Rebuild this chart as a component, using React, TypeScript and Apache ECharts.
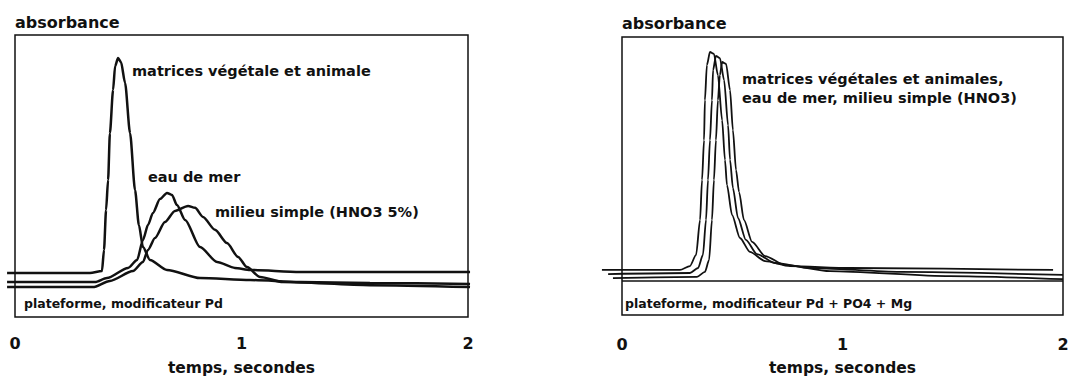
import React, { useEffect, useRef } from "react";
import * as echarts from "echarts";

// ---- data: [time (s), absorbance (arbitrary units)] ----
// Left panel: plateforme, modificateur Pd
const leftMatrices: number[][] = [
  [-0.035, 0.156], [0.331, 0.156], [0.384, 0.163], [0.393, 0.238], [0.402, 0.379],
  [0.411, 0.486], [0.419, 0.652], [0.433, 0.805], [0.442, 0.89], [0.455, 0.918],
  [0.468, 0.904], [0.486, 0.83], [0.508, 0.652], [0.53, 0.45], [0.547, 0.326],
  [0.565, 0.248], [0.596, 0.202], [0.671, 0.167], [0.817, 0.138], [1.038, 0.131],
  [1.258, 0.124], [1.567, 0.121], [2.009, 0.117],
];
const leftEauDeMer: number[][] = [
  [-0.035, 0.124], [0.353, 0.124], [0.406, 0.138], [0.499, 0.174], [0.539, 0.202],
  [0.565, 0.273], [0.587, 0.326], [0.609, 0.369], [0.64, 0.418], [0.671, 0.44],
  [0.693, 0.433], [0.715, 0.397], [0.751, 0.344], [0.817, 0.248], [0.892, 0.195],
  [0.971, 0.174], [1.038, 0.167], [1.258, 0.16], [2.009, 0.16],
];
const leftMilieuSimple: number[][] = [
  [-0.035, 0.106], [0.344, 0.106], [0.419, 0.128], [0.521, 0.163], [0.565, 0.195],
  [0.587, 0.238], [0.618, 0.28], [0.662, 0.337], [0.706, 0.376], [0.764, 0.394],
  [0.795, 0.387], [0.83, 0.355], [0.883, 0.309], [0.936, 0.262], [0.985, 0.213],
  [1.024, 0.177], [1.082, 0.142], [1.183, 0.124], [1.567, 0.113], [2.009, 0.106],
];
// Right panel: plateforme, modificateur Pd + PO4 + Mg
const rightCurveA: number[][] = [
  [-0.091, 0.162], [0.263, 0.162], [0.308, 0.176], [0.336, 0.216], [0.354, 0.342],
  [0.363, 0.486], [0.372, 0.629], [0.376, 0.773], [0.385, 0.899], [0.399, 0.946],
  [0.417, 0.939], [0.435, 0.863], [0.454, 0.701], [0.467, 0.558], [0.476, 0.468],
  [0.499, 0.36], [0.535, 0.277], [0.58, 0.227], [0.649, 0.194], [0.762, 0.176],
  [1.034, 0.169], [1.955, 0.162],
];
const rightCurveB: number[][] = [
  [-0.063, 0.147], [0.308, 0.151], [0.345, 0.169], [0.367, 0.216], [0.381, 0.342],
  [0.39, 0.486], [0.399, 0.629], [0.408, 0.773], [0.413, 0.881], [0.426, 0.932],
  [0.444, 0.924], [0.463, 0.845], [0.481, 0.683], [0.49, 0.558], [0.503, 0.457],
  [0.526, 0.349], [0.562, 0.27], [0.612, 0.219], [0.694, 0.187], [0.853, 0.169],
  [1.261, 0.155], [2.0, 0.144],
];
const rightCurveC: number[][] = [
  [-0.041, 0.133], [0.34, 0.137], [0.376, 0.155], [0.395, 0.198], [0.408, 0.342],
  [0.417, 0.486], [0.426, 0.629], [0.435, 0.773], [0.444, 0.863], [0.454, 0.91],
  [0.472, 0.903], [0.49, 0.809], [0.503, 0.665], [0.517, 0.522], [0.531, 0.442],
  [0.553, 0.342], [0.59, 0.263], [0.649, 0.212], [0.739, 0.18], [0.943, 0.158],
  [1.488, 0.14], [2.0, 0.129],
];
const rightLabelBoxLevel = 0.122;

const xTickValues = [0, 1, 2];
const frameX = [0, 2];
const frameY = [0, 1];

const FONT = "'DejaVu Sans', 'Liberation Sans', sans-serif";
const INK = "#111";

function lineSeries(data: number[][], xi: number, width: number, extra: any = {}) {
  return {
    type: "line",
    xAxisIndex: xi,
    yAxisIndex: xi,
    data,
    symbol: "none",
    smooth: 0.25,
    smoothMonotone: "x",
    clip: false,
    silent: true,
    lineStyle: { color: INK, width },
    ...extra,
  };
}

const frameArea = {
  silent: true,
  itemStyle: { color: "rgba(0,0,0,0)", borderColor: INK, borderWidth: 1.5 },
  label: { show: false },
  data: [[{ xAxis: frameX[0], yAxis: frameY[0] }, { xAxis: frameX[1], yAxis: frameY[1] }]],
};

export default function App() {
  const ref = useRef<HTMLDivElement>(null);
  useEffect(() => {
    if (!ref.current) return;
    const chart = echarts.init(ref.current, null, { renderer: "svg" });
    const xAxisBase = (gridIndex: number, min: number, max: number, margin: number, gap: number) => ({
      type: "value",
      gridIndex,
      min,
      max,
      axisLine: { show: false },
      axisTick: { show: false },
      splitLine: { show: false },
      axisLabel: {
        show: true,
        margin,
        fontSize: 16,
        fontWeight: "bold",
        fontFamily: FONT,
        color: INK,
        customValues: xTickValues,
        formatter: (v: number) => String(v),
      },
      name: "temps, secondes",
      nameLocation: "middle",
      nameGap: gap,
      nameTextStyle: {
        fontSize: 15.5,
        fontWeight: "bold",
        fontFamily: FONT,
        color: INK,
        verticalAlign: "middle",
      },
    });
    const yAxisBase = (gridIndex: number, gap: number, offset: number) => ({
      type: "value",
      gridIndex,
      min: 0,
      max: 1,
      offset,
      axisLine: { show: false },
      axisTick: { show: false },
      axisLabel: { show: false },
      splitLine: { show: false },
      name: "absorbance",
      nameLocation: "end",
      nameGap: gap,
      nameTextStyle: {
        fontSize: 16,
        fontWeight: "bold",
        fontFamily: FONT,
        color: INK,
        align: "left",
        verticalAlign: "middle",
      },
    });
    const textStyle = (text: string, size: number) => ({
      text,
      fill: INK,
      fontSize: size,
      fontWeight: "bold",
      fontFamily: FONT,
      verticalAlign: "middle",
    });
    chart.setOption({
      animation: false,
      backgroundColor: "#fff",
      grid: [
        // left: x from -0.05 to 2.05, 226.5 px per second, 0 at x=15
        { left: 3.675, top: 35, width: 475.65, height: 282, outerBoundsMode: "none", containLabel: false },
        // right: x from -0.1 to 2.1, 220.5 px per second, 0 at x=622
        { left: 599.95, top: 37, width: 485.1, height: 278, outerBoundsMode: "none", containLabel: false },
      ],
      xAxis: [xAxisBase(0, -0.05, 2.05, 18, 51), xAxisBase(1, -0.1, 2.1, 21, 53)],
      yAxis: [yAxisBase(0, 13, -11.3), yAxisBase(1, 14, -18)],
      series: [
        lineSeries(leftMatrices, 0, 2.5, { markArea: frameArea }),
        lineSeries(leftEauDeMer, 0, 2.5),
        lineSeries(leftMilieuSimple, 0, 2.5),
        lineSeries(rightCurveA, 1, 1.8, { markArea: frameArea }),
        lineSeries(rightCurveB, 1, 1.8),
        lineSeries(rightCurveC, 1, 1.8, {
          markLine: {
            silent: true,
            symbol: "none",
            label: { show: false },
            lineStyle: { color: INK, width: 1.5, type: "solid" },
            data: [[{ coord: [frameX[0], rightLabelBoxLevel] }, { coord: [frameX[1], rightLabelBoxLevel] }]],
          },
        }),
      ],
      graphic: [
        { type: "text", left: 132, top: 63, style: textStyle("matrices végétale et animale", 14.5) },
        { type: "text", left: 148, top: 169, style: textStyle("eau de mer", 14.5) },
        { type: "text", left: 215, top: 204, style: textStyle("milieu simple (HNO3 5%)", 14.5) },
        { type: "text", left: 24, top: 297, style: textStyle("plateforme, modificateur Pd", 12.5) },
        {
          type: "text",
          left: 742,
          top: 69,
          style: { ...textStyle("matrices végétales et animales,\neau de mer, milieu simple (HNO3)", 14.5), lineHeight: 19, verticalAlign: "top" },
        },
        { type: "text", left: 625, top: 297, style: textStyle("plateforme, modificateur Pd + PO4 + Mg", 12.5) },
      ],
    });
    return () => chart.dispose();
  }, []);
  return (
    <div
      ref={ref}
      style={{ position: "absolute", left: 0, top: 0, width: 1070, height: 377, background: "#fff" }}
    />
  );
}
